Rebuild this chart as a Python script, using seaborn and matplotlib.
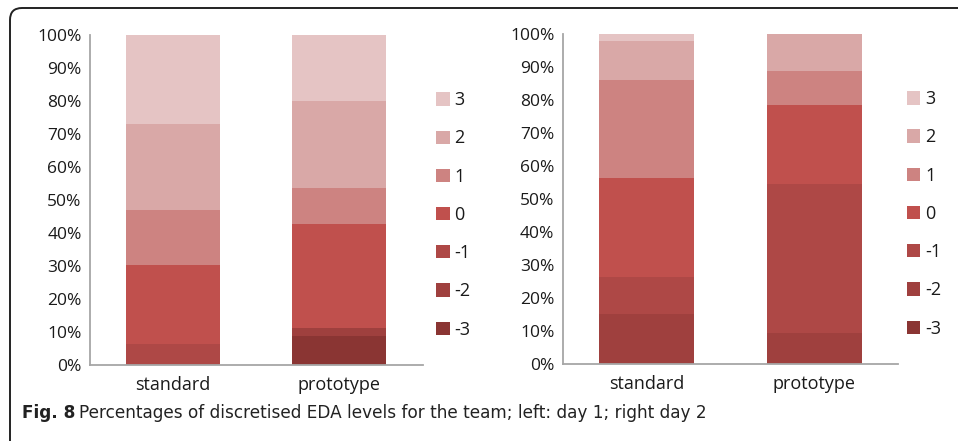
import matplotlib
matplotlib.use("Agg")
import matplotlib.pyplot as plt
from matplotlib.patches import FancyBboxPatch, Patch
from matplotlib.ticker import FuncFormatter
import pandas as pd
import seaborn as sns

# Data (percent per EDA level)
levels = ["-3", "-2", "-1", "0", "1", "2", "3"]
conditions = ["standard", "prototype"]
day1_standard = [0, 0, 6.4, 24.0, 16.7, 25.8, 27.1]
day1_prototype = [8.8, 2.3, 0, 31.5, 10.9, 26.5, 20.0]
day2_standard = [0, 15.2, 11.1, 30.0, 29.7, 12.0, 2.0]
day2_prototype = [0, 9.4, 45.0, 24.1, 10.4, 11.1, 0]

colors = ["#8a3533", "#9f403e", "#ae4846", "#c0504d", "#cd8381", "#d9a8a7", "#e5c4c4"]

sns.set_theme(style="white")
plt.rcParams["font.family"] = ["Open Sans", "DejaVu Sans"]

fig = plt.figure(figsize=(9.58, 4.41), dpi=100)
fig.patch.set_facecolor("white")

ax1 = fig.add_axes([0.0939, 0.1723, 0.3472, 0.7483])
ax2 = fig.add_axes([0.5874, 0.1746, 0.3500, 0.7483])


def stacked(ax, std, proto, leg_x):
    df = pd.DataFrame({"level": levels, "standard": std, "prototype": proto})
    long = df.melt(id_vars="level", var_name="condition", value_name="pct")
    long["cum"] = long.groupby("condition")["pct"].cumsum()
    # draw cumulative bars from the top level down so lower levels sit on top
    for lev, col in reversed(list(zip(levels, colors))):
        sub = long[long["level"] == lev]
        sns.barplot(data=sub, x="condition", y="cum", order=conditions,
                    color=col, width=0.565, ax=ax, saturation=1, edgecolor="none")
    ax.set_xlim(-0.5, 1.5)
    ax.set_ylim(0, 100)
    ax.set_yticks(range(0, 101, 10))
    ax.yaxis.set_major_formatter(FuncFormatter(lambda v, p: f"{int(v)}%"))
    ax.set_xlabel("")
    ax.set_ylabel("")
    for s in ["top", "right"]:
        ax.spines[s].set_visible(False)
    for s in ["left", "bottom"]:
        ax.spines[s].set_color("#a6a6a6")
        ax.spines[s].set_linewidth(1.3)
    ax.tick_params(axis="y", length=0, pad=6, labelsize=12.5, labelcolor="#1a1a1a")
    ax.tick_params(axis="x", length=0, pad=8, labelsize=13, labelcolor="#1a1a1a")
    ax.set_facecolor("white")
    handles = [Patch(facecolor=c, edgecolor="none", label=l)
               for l, c in reversed(list(zip(levels, colors)))]
    ax.legend(handles=handles, loc="center left", bbox_to_anchor=(leg_x, 0.455),
              frameon=False, fontsize=13, handlelength=0.75, handleheight=0.75,
              handletextpad=0.25, labelspacing=1.12, borderaxespad=0,
              labelcolor="#1a1a1a")


stacked(ax1, day1_standard, day1_prototype, 1.02)
stacked(ax2, day2_standard, day2_prototype, 1.005)

# rounded frame around the figure panel
frame = FancyBboxPatch((0.10, -1.0), 11.0, 5.33, boxstyle="round,pad=0,rounding_size=0.12",
                       transform=fig.dpi_scale_trans, facecolor="none",
                       edgecolor="#222222", linewidth=1.4, zorder=10)
fig.patches.append(frame)

# caption
cap_font = ["DejaVu Sans"]
t1 = fig.text(22 / 958, 1 - 413 / 441, "Fig. 8", fontsize=12.2, fontweight="bold",
              family=cap_font, va="center", ha="left", color="#222222")
fig.canvas.draw()
bb = t1.get_window_extent(renderer=fig.canvas.get_renderer())
fig.text(bb.x1 / fig.bbox.width + 4 / 958, 1 - 413 / 441,
         "Percentages of discretised EDA levels for the team; left: day 1; right day 2",
         fontsize=12.2, family=cap_font, va="center", ha="left", color="#222222")

fig.savefig("out.png", dpi=100, facecolor="white")
